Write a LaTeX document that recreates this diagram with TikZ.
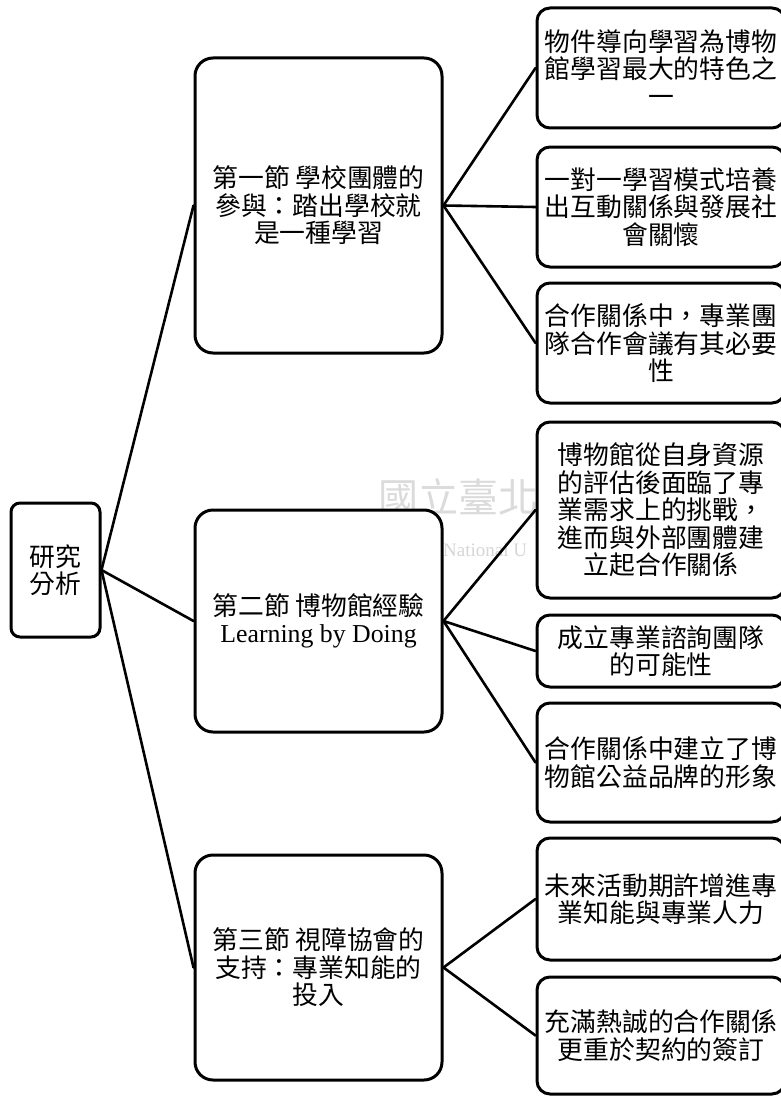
\documentclass[tikz,border=0pt]{standalone}
\usepackage{fontspec}
\setmainfont{Liberation Serif}
\newfontfamily\cjk{Noto Sans CJK TC}
\begin{document}
\begin{tikzpicture}[x=1pt,y=-1pt,
  basebox/.style={draw, line width=3pt, fill=white, align=center, inner sep=0pt,
    font=\cjk\fontsize{25.8}{27.5}\selectfont},
  rootbox/.style={basebox, rounded corners=9pt, minimum width=89pt, minimum height=134pt},
  midbox/.style={basebox, rounded corners=18pt, minimum width=247pt},
  leafbox/.style={basebox, rounded corners=13pt, minimum width=248pt},
  conn/.style={line width=2.6pt, line cap=round}]
\useasboundingbox (0,0) rectangle (781,1097);
\fill[white] (0,0) rectangle (781,1097);
% watermark
\node[anchor=west, text=black!14, font=\cjk\fontsize{40}{40}\selectfont, inner sep=0pt] (wm1) at (378,497) {國立臺北};
\node[anchor=west, text=black!16, font=\fontsize{19}{19}\selectfont, inner sep=0pt] (wm2) at (443,550) {National U};
% nodes
\node[rootbox] (root) at (55.5,570) {研究\\分析};
\node[midbox, minimum height=295pt] (m1) at (318.5,205.5) {第一節 學校團體的\\參與：踏出學校就\\是一種學習};
\node[midbox, minimum height=222pt] (m2) at (318.5,621) {第二節 博物館經驗\\{\rmfamily Learning by Doing}};
\node[midbox, minimum height=225pt] (m3) at (318.5,967.5) {第三節 視障協會的\\支持：專業知能的\\投入};
\node[leafbox, minimum height=120pt] (l1) at (661,68) {物件導向學習為博物\\館學習最大的特色之\\一};
\node[leafbox, minimum height=120pt] (l2) at (661,207) {一對一學習模式培養\\出互動關係與發展社\\會關懷};
\node[leafbox, minimum height=120pt] (l3) at (661,343) {合作關係中，專業團\\隊合作會議有其必要\\性};
\node[leafbox, minimum height=176pt] (l4) at (661,510) {博物館從自身資源\\的評估後面臨了專\\業需求上的挑戰，\\進而與外部團體建\\立起合作關係};
\node[leafbox, minimum height=72pt] (l5) at (661,651) {成立專業諮詢團隊\\的可能性};
\node[leafbox, minimum height=119pt] (l6) at (661,762.5) {合作關係中建立了博\\物館公益品牌的形象};
\node[leafbox, minimum height=122pt] (l7) at (661,899) {未來活動期許增進專\\業知能與專業人力};
\node[leafbox, minimum height=117pt] (l8) at (661,1035.5) {充滿熱誠的合作關係\\更重於契約的簽訂};
% connectors
\draw[conn] (root.east) -- (m1.west);
\draw[conn] (root.east) -- (m2.west);
\draw[conn] (root.east) -- (m3.west);
\draw[conn] (m1.east) -- (l1.west);
\draw[conn] (m1.east) -- (l2.west);
\draw[conn] (m1.east) -- (l3.west);
\draw[conn] (m2.east) -- (l4.west);
\draw[conn] (m2.east) -- (l5.west);
\draw[conn] (m2.east) -- (l6.west);
\draw[conn] (m3.east) -- (l7.west);
\draw[conn] (m3.east) -- (l8.west);
\end{tikzpicture}
\end{document}
